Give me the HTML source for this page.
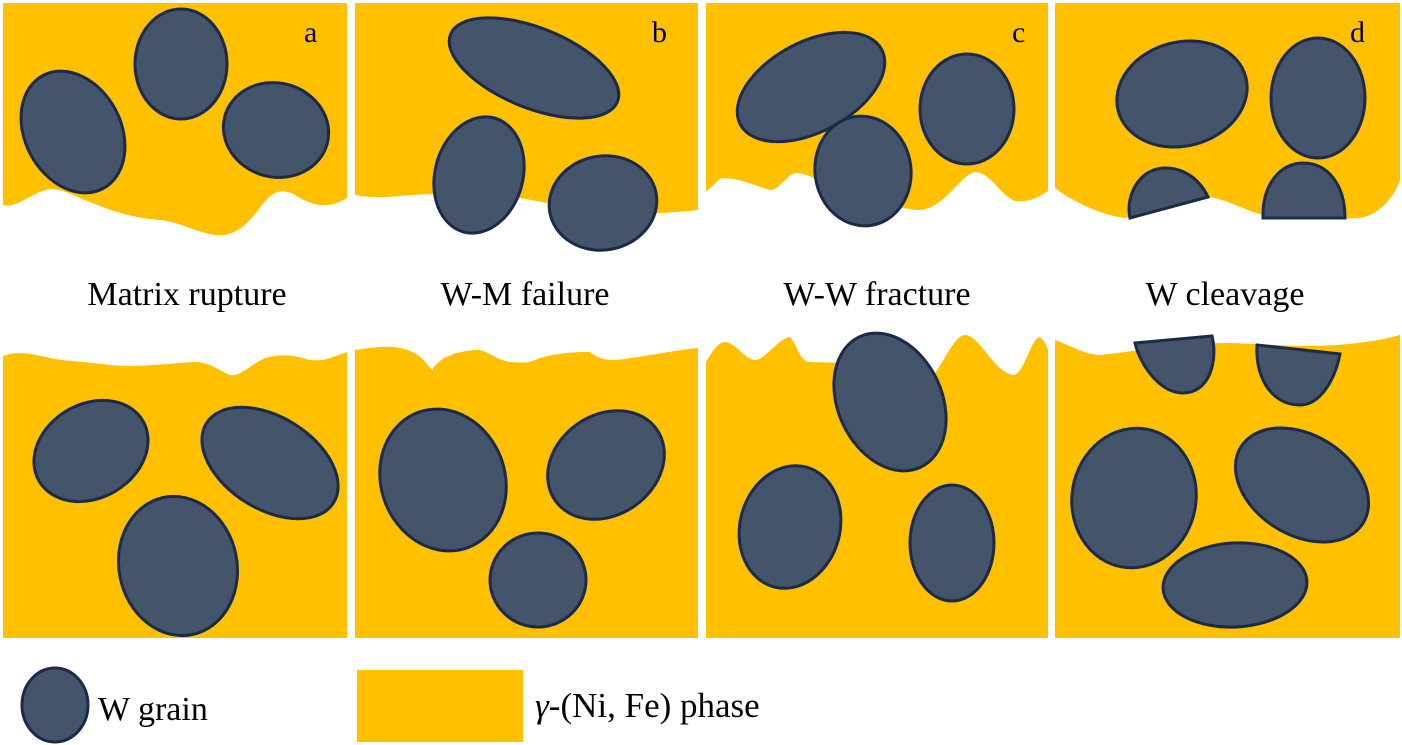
<!DOCTYPE html>
<html><head><meta charset="utf-8"><style>html,body{margin:0;padding:0;background:#fff}svg{display:block}</style></head>
<body>
<svg width="1402" height="745" viewBox="0 0 1402 745" xmlns="http://www.w3.org/2000/svg" font-family="Liberation Serif, serif">
<g fill="#FFC000">
<!-- top panels -->
<path d="M3,3 H347 V198 C335,205 322,210 300,198 C285,188 275,188 262,205 C250,222 235,238 215,235 C195,232 180,222 160,220 C130,218 110,210 85,200 C65,192 55,185 40,192 C25,198 15,208 3,205 Z"/>
<path d="M355,3 H698 V210 C680,212 665,213 640,214 C600,215 560,205 520,198 C480,194 440,192 400,196 C380,198 365,197 355,195 Z"/>
<path d="M706,3 H1048 V191 C1040,196 1030,203 1015,201 C1000,195 990,172 975,172 C960,175 945,208 920,210 C900,210 880,200 860,195 C830,190 810,172 795,173 C785,176 780,190 770,190 C755,186 740,178 722,178 C715,182 710,190 706,191 Z"/>
<path d="M1055,3 H1400 V180 C1395,195 1380,215 1360,218 C1330,220 1300,218 1270,216 C1250,214 1230,200 1210,197 C1190,195 1150,215 1125,218 C1100,215 1070,200 1055,188 Z"/>
<!-- bottom panels -->
<path d="M3,356 C20,350 35,355 50,358 C70,362 90,362 110,365 C140,368 170,363 195,362 C210,362 222,372 230,375 C240,377 250,365 265,358 C290,352 300,358 310,360 C325,362 335,356 347,352 V638 H3 Z"/>
<path d="M355,350 C370,348 385,345 400,348 C420,352 425,362 432,370 C438,360 450,352 475,350 C485,348 495,360 510,362 C520,362 525,365 540,358 C560,352 580,352 590,352 C600,360 610,362 630,358 C655,355 675,350 698,348 V638 H355 Z"/>
<path d="M706,362 C712,352 718,342 725,342 C735,342 745,360 755,360 C765,360 780,337 790,337 C797,345 800,362 810,362 C840,363 880,363 935,373 C945,360 955,335 965,335 C980,335 995,375 1015,375 C1025,370 1032,337 1040,337 C1044,340 1046,345 1048,350 V638 H706 Z"/>
<path d="M1055,340 C1070,345 1085,355 1100,355 C1130,352 1180,343 1230,343 C1260,344 1290,346 1310,346 C1340,346 1375,342 1400,335 V638 H1055 Z"/>
<!-- legend -->
<rect x="357" y="670" width="166" height="72"/>
</g>
<g fill="#44546A" stroke="#1C2A4A" stroke-width="3">
<!-- a -->
<ellipse cx="73" cy="132" rx="48" ry="64" transform="rotate(-28 73 132)"/>
<ellipse cx="181" cy="64" rx="46" ry="55"/>
<ellipse cx="276" cy="130" rx="53" ry="47" transform="rotate(15 276 130)"/>
<!-- b -->
<ellipse cx="534" cy="68" rx="90" ry="40" transform="rotate(22 534 68)"/>
<ellipse cx="479" cy="175" rx="44" ry="59" transform="rotate(15 479 175)"/>
<ellipse cx="603" cy="203" rx="54" ry="47" transform="rotate(-10 603 203)"/>
<!-- c -->
<ellipse cx="811" cy="87" rx="80" ry="45" transform="rotate(-28 811 87)"/>
<ellipse cx="967" cy="109" rx="47" ry="55"/>
<ellipse cx="863" cy="171" rx="48" ry="55" transform="rotate(-8 863 171)"/>
<!-- d -->
<ellipse cx="1182" cy="94" rx="66" ry="52" transform="rotate(-15 1182 94)"/>
<ellipse cx="1318" cy="98" rx="47" ry="60"/>
<path d="M1130,218 C1125,195 1140,168 1165,168 C1185,168 1200,180 1208,197 Z"/>
<path d="M1263,218 C1262,185 1280,163 1303,163 C1328,163 1345,185 1345,218 Z"/>
<!-- bottom a -->
<ellipse cx="91" cy="451" rx="60" ry="47" transform="rotate(-30 91 451)"/>
<ellipse cx="270" cy="463" rx="75" ry="46" transform="rotate(32 270 463)"/>
<ellipse cx="178" cy="566" rx="59" ry="70" transform="rotate(-12 178 566)"/>
<!-- bottom b -->
<ellipse cx="443" cy="480" rx="62" ry="72" transform="rotate(-20 443 480)"/>
<ellipse cx="606" cy="465" rx="62" ry="50" transform="rotate(-35 606 465)"/>
<ellipse cx="538" cy="580" rx="48" ry="47"/>
<!-- bottom c -->
<ellipse cx="890" cy="402" rx="52" ry="72" transform="rotate(-25 890 402)"/>
<ellipse cx="790" cy="527" rx="50" ry="62" transform="rotate(15 790 527)"/>
<ellipse cx="952" cy="543" rx="42" ry="58"/>
<!-- bottom d -->
<path d="M1135,343 L1212,336 C1218,360 1210,393 1183,393 C1160,393 1140,365 1135,343 Z"/>
<path d="M1257,345 L1340,354 C1335,380 1320,405 1300,405 C1270,405 1255,375 1257,345 Z"/>
<ellipse cx="1134" cy="498" rx="62" ry="70" transform="rotate(10 1134 498)"/>
<ellipse cx="1302" cy="485" rx="72" ry="50" transform="rotate(32 1302 485)"/>
<ellipse cx="1235" cy="585" rx="72" ry="42" transform="rotate(-3 1235 585)"/>
<!-- legend -->
<ellipse cx="55" cy="705" rx="33" ry="37"/>
</g>
<g fill="#000" font-size="34">
<text x="304" y="42" font-size="30">a</text>
<text x="652" y="42" font-size="30">b</text>
<text x="1012" y="42" font-size="30">c</text>
<text x="1350" y="42" font-size="30">d</text>
<text x="187" y="305" text-anchor="middle">Matrix rupture</text>
<text x="525" y="305" text-anchor="middle">W-M failure</text>
<text x="877" y="305" text-anchor="middle">W-W fracture</text>
<text x="1225" y="305" text-anchor="middle">W cleavage</text>
<text x="98" y="720">W grain</text>
<text x="535" y="717" font-size="35"><tspan font-style="italic">γ</tspan>-(Ni, Fe) phase</text>
</g>
</svg>
</body></html>
